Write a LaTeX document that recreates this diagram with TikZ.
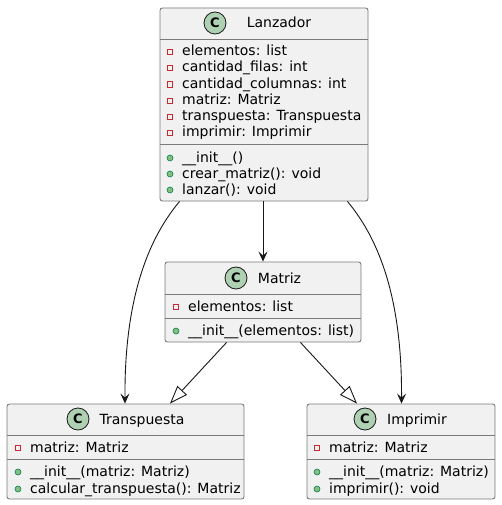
\documentclass[tikz,border=0pt]{standalone}
\usepackage{fontspec}
\setmainfont{DejaVu Sans}
\usetikzlibrary{arrows.meta,calc}
\definecolor{boxfill}{HTML}{F1F1F1}
\definecolor{boxline}{HTML}{7A7A7A}
\definecolor{edge}{HTML}{181818}
\definecolor{cfill}{HTML}{ADD1B2}
\definecolor{privred}{HTML}{C82930}
\definecolor{pubfill}{HTML}{84BE84}
\definecolor{publine}{HTML}{038048}
\tikzset{
  classbox/.style={draw=boxline, fill=boxfill, line width=0.9pt, rounded corners=2.5pt, rectangle, inner sep=0pt},
  sepline/.style={draw=boxline, line width=0.9pt},
  ctext/.style={anchor=base west, inner sep=0pt, font=\fontsize{14}{16}\selectfont},
  ttext/.style={anchor=base, inner sep=0pt, font=\fontsize{14}{16}\selectfont},
  cicon/.style={circle, draw=edge, fill=cfill, line width=0.8pt, minimum size=22pt, inner sep=0pt, font=\fontsize{13}{15}\selectfont\bfseries},
  privicon/.style={draw=privred, line width=0.8pt, rectangle, minimum size=5.5pt, inner sep=0pt},
  pubicon/.style={draw=publine, fill=pubfill, line width=0.6pt, circle, minimum size=6pt, inner sep=0pt},
  assoc/.style={draw=edge, line width=0.9pt, -{Stealth[length=10pt,width=9pt,inset=4pt]}},
  inherit/.style={draw=edge, line width=0.9pt, -{Triangle[open,length=18pt,width=13pt,fill=white]}},
}
\newcommand{\priv}[3]{\node[privicon] at (#1,#2+1) {}; \node[ctext] at (#1+12,#2+5) {#3};}
\newcommand{\pub}[3]{\node[pubicon] at (#1,#2+1) {}; \node[ctext] at (#1+12,#2+5) {#3};}
\begin{document}
\begin{tikzpicture}[x=1pt,y=-1pt]
\useasboundingbox (0,0) rectangle (501,505);
\fill[white] (0,0) rectangle (501,505);

% Lanzador
\node[classbox, minimum width=208pt, minimum height=193pt] (lanz) at (264,104.5) {};
\node[cicon] (lanzc) at (215,23) {C};
\node[ttext] (lanzt) at (279,28) {Lanzador};
\draw[sepline] (160,39) -- (368,39);
\draw[sepline] (160,144) -- (368,144);
\priv{170}{51}{elementos: list}
\priv{170}{67}{cantidad\_filas: int}
\priv{170}{83.5}{cantidad\_columnas: int}
\priv{170}{100}{matriz: Matriz}
\priv{170}{116}{transpuesta: Transpuesta}
\priv{170}{132}{imprimir: Imprimir}
\pub{170}{157}{\_\_init\_\_()}
\pub{170}{173}{crear\_matriz(): void}
\pub{170}{189}{lanzar(): void}

% Matriz
\node[classbox, minimum width=196pt, minimum height=80pt] (matriz) at (263,302) {};
\node[cicon] (matrizc) at (236,278) {C};
\node[ttext] (matrizt) at (279.5,283) {Matriz};
\draw[sepline] (165,294) -- (361,294);
\draw[sepline] (165,318) -- (361,318);
\priv{176}{306}{elementos: list}
\pub{176}{330}{\_\_init\_\_(elementos: list)}

% Transpuesta
\node[classbox, minimum width=237pt, minimum height=95pt] (trans) at (125.5,451.5) {};
\node[cicon] (transc) at (78,419) {C};
\node[ttext] (transt) at (142,424) {Transpuesta};
\draw[sepline] (7,435) -- (244,435);
\draw[sepline] (7,459) -- (244,459);
\priv{18}{447}{matriz: Matriz}
\pub{18}{471}{\_\_init\_\_(matriz: Matriz)}
\pub{18}{488}{calcular\_transpuesta(): Matriz}

% Imprimir
\node[classbox, minimum width=188pt, minimum height=95pt] (impr) at (401,451.5) {};
\node[cicon] (imprc) at (365,419) {C};
\node[ttext] (imprt) at (417,424) {Imprimir};
\draw[sepline] (307,435) -- (495,435);
\draw[sepline] (307,459) -- (495,459);
\priv{317}{447}{matriz: Matriz}
\pub{317}{471}{\_\_init\_\_(matriz: Matriz)}
\pub{317}{488}{imprimir(): void}

% connectors
\draw[assoc] ($(lanz.south west)+(20,0)$) .. controls ($(lanz.south west)+(-22,50)$) and ($(trans.north)+(-1,-80)$) .. ($(trans.north)+(-0.5,0)$);
\draw[assoc] ($(lanz.south east)+(-21,0)$) .. controls ($(lanz.south east)+(21,50)$) and ($(impr.north)+(1,-80)$) .. ($(impr.north)+(0.5,0)$);
\draw[assoc] (matriz.north |- lanz.south) -- (matriz.north);
\draw[inherit] ($(matriz.south west)+(62,0)$) -- ($(trans.north)+(44.5,0)$);
\draw[inherit] ($(matriz.south east)+(-61,0)$) -- ($(impr.north)+(-44,0)$);
\end{tikzpicture}
\end{document}
